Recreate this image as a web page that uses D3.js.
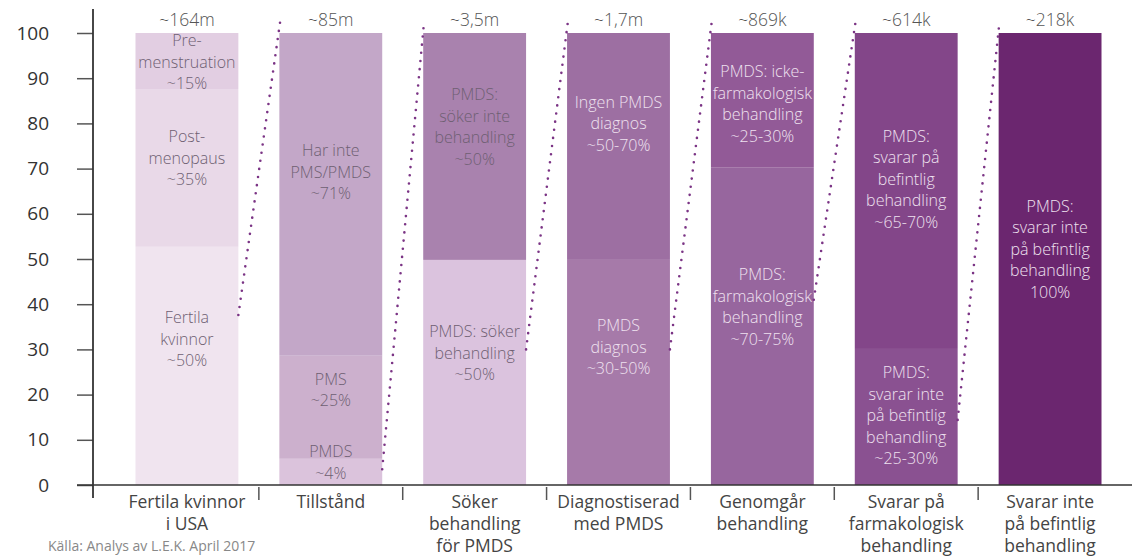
<!DOCTYPE html>
<html>
<head>
<meta charset="utf-8">
<script src="https://cdn.jsdelivr.net/npm/d3@7"></script>
<style>
  body { margin: 0; background: #fff; }
  text { font-family: "Open Sans", sans-serif; }
</style>
</head>
<body>
<div id="chart"></div>
<script>
// categories (bottom labels) and population totals above the bars
const categories = ["Fertila kvinnor\ni USA", "Tillstånd", "Söker\nbehandling\nför PMDS",
  "Diagnostiserad\nmed PMDS", "Genomgår\nbehandling", "Svarar på\nfarmakologisk\nbehandling",
  "Svarar inte\npå befintlig\nbehandling"];
const totals = ["~164m", "~85m", "~3,5m", "~1,7m", "~869k", "~614k", "~218k"];

// stacked segments, bottom to top within each bar
const segBar   = [0, 0, 0, 1, 1, 1, 2, 2, 3, 3, 4, 4, 5, 5, 6];
const segValue = [52.7, 34.9, 12.4, 5.8, 22.8, 71.4, 49.8, 50.2, 49.8, 50.2, 70.2, 29.8, 30.1, 69.9, 100];
const segLabel = [
  "Fertila\nkvinnor\n~50%", "Post-\nmenopaus\n~35%", "Pre-\nmenstruation\n~15%",
  "PMDS\n~4%", "PMS\n~25%", "Har inte\nPMS/PMDS\n~71%",
  "PMDS: söker\nbehandling\n~50%", "PMDS:\nsöker inte\nbehandling\n~50%",
  "PMDS\ndiagnos\n~30-50%", "Ingen PMDS\ndiagnos\n~50-70%",
  "PMDS:\nfarmakologisk\nbehandling\n~70-75%", "PMDS: icke-\nfarmakologisk\nbehandling\n~25-30%",
  "PMDS:\nsvarar inte\npå befintlig\nbehandling\n~25-30%", "PMDS:\nsvarar på\nbefintlig\nbehandling\n~65-70%",
  "PMDS:\nsvarar inte\npå befintlig\nbehandling\n100%"];
// where each label block sits (in % units)
const segLabelAt = [32.3, 72.3, 93.6, 5.0, 21.0, 69.2, 29.2, 79.2, 30.5, 79.9, 39.4, 84.3, 15.3, 67.7, 52.2];

// dotted connectors: value on the right edge of bar i, running up to the next bar
const linkFrom = [37.6, 3.5, 30, 30, 41, 14.4];
const linkTo = 102.8;

const yTicks = d3.range(0, 101, 10);

// styling
const segColor = ["#f0e4ef", "#e9d9e8", "#e2cee2", "#dbc3dc", "#ccb0cd", "#c3a7c8",
  "#dbc3de", "#a982ae", "#a67aa9", "#9d6fa2", "#97669e", "#925a97", "#8a5191", "#834689", "#6b266f"];
const segTextColor = segBar.map(b => b < 3 ? "#6e5f72" : "#efe2f0");

const width = 1132, height = 556;

const svg = d3.select("#chart").append("svg")
  .attr("width", width)
  .attr("height", height);

const x = d3.scaleBand()
  .domain(d3.range(categories.length))
  .range([115, 1122])
  .paddingInner(0.285)
  .paddingOuter(0.1425);

const y = d3.scaleLinear()
  .domain([0, 100])
  .range([485, 33]);

// build stacked rows
const segs = segValue.map((v, i) => ({ bar: segBar[i], value: v, label: segLabel[i], at: segLabelAt[i], i: i }));
const base = {};
segs.forEach(s => {
  s.y0 = base[s.bar] || 0;
  s.y1 = s.y0 + s.value;
  base[s.bar] = s.y1;
});

// bars
svg.append("g").selectAll("rect")
  .data(segs)
  .join("rect")
  .attr("x", d => x(d.bar))
  .attr("width", x.bandwidth())
  .attr("y", d => y(Math.min(d.y1, 100)))
  .attr("height", d => y(d.y0) - y(Math.min(d.y1, 100)))
  .attr("fill", d => segColor[d.i]);

// bar labels
const lh = 21.5;
svg.append("g").selectAll("text")
  .data(segs)
  .join("text")
  .attr("text-anchor", "middle")
  .attr("font-size", 16)
  .attr("font-weight", 300)
  .attr("fill", d => segTextColor[d.i])
  .each(function (d) {
    const lines = d.label.split("\n");
    const cx = x(d.bar) + x.bandwidth() / 2;
    const cy = y(d.at);
    d3.select(this).selectAll("tspan")
      .data(lines)
      .join("tspan")
      .attr("x", cx)
      .attr("y", (l, k) => cy + (k - (lines.length - 1) / 2) * lh)
      .attr("dy", "0.35em")
      .text(l => l);
  });

// totals above bars
svg.append("g").selectAll("text")
  .data(totals)
  .join("text")
  .attr("x", (d, i) => x(i) + x.bandwidth() / 2)
  .attr("y", y(100) - 7)
  .attr("text-anchor", "middle")
  .attr("font-size", 17.5)
  .attr("font-weight", 300)
  .attr("fill", "#555")
  .text(d => d);

// dotted connectors
svg.append("g").selectAll("line")
  .data(linkFrom)
  .join("line")
  .attr("x1", (d, i) => x(i) + x.bandwidth())
  .attr("y1", d => y(d))
  .attr("x2", (d, i) => x(i + 1) + 1)
  .attr("y2", y(linkTo))
  .attr("stroke", "#7b3485")
  .attr("stroke-width", 2.6)
  .attr("stroke-linecap", "round")
  .attr("stroke-dasharray", "0 8.2");

// y axis
const yAxis = svg.append("g")
  .attr("transform", "translate(93,0)")
  .call(d3.axisLeft(y).tickValues(yTicks).tickSize(16).tickPadding(28));
yAxis.select(".domain").remove();
yAxis.selectAll(".tick line").attr("stroke", "#555").attr("stroke-width", 1.5);
yAxis.selectAll(".tick text")
  .attr("font-family", "Open Sans, sans-serif")
  .attr("font-size", 19)
  .attr("fill", "#333");
svg.append("line")
  .attr("x1", 93).attr("x2", 93)
  .attr("y1", 9).attr("y2", 498)
  .attr("stroke", "#333").attr("stroke-width", 1.8);

// x axis line and separators
svg.append("line")
  .attr("x1", 77).attr("x2", width)
  .attr("y1", y(0)).attr("y2", y(0))
  .attr("stroke", "#333").attr("stroke-width", 1.6);

const step = x.step();
svg.append("g").selectAll("line")
  .data(d3.range(1, categories.length))
  .join("line")
  .attr("x1", i => x(i) - step * x.paddingInner() / 2)
  .attr("x2", i => x(i) - step * x.paddingInner() / 2)
  .attr("y1", y(0) + 2)
  .attr("y2", y(0) + 15)
  .attr("stroke", "#555")
  .attr("stroke-width", 1.5);

// category labels
svg.append("g").selectAll("text")
  .data(categories)
  .join("text")
  .attr("text-anchor", "middle")
  .attr("font-size", 17.5)
  .attr("fill", "#444")
  .each(function (d, i) {
    const lines = d.split("\n");
    d3.select(this).selectAll("tspan")
      .data(lines)
      .join("tspan")
      .attr("x", x(i) + x.bandwidth() / 2)
      .attr("y", (l, k) => y(0) + 23 + k * 22)
      .text(l => l);
  });

// source
svg.append("text")
  .attr("x", 48)
  .attr("y", 551)
  .attr("font-size", 14)
  .attr("fill", "#888")
  .text("Källa: Analys av L.E.K. April 2017");
</script>
</body>
</html>
